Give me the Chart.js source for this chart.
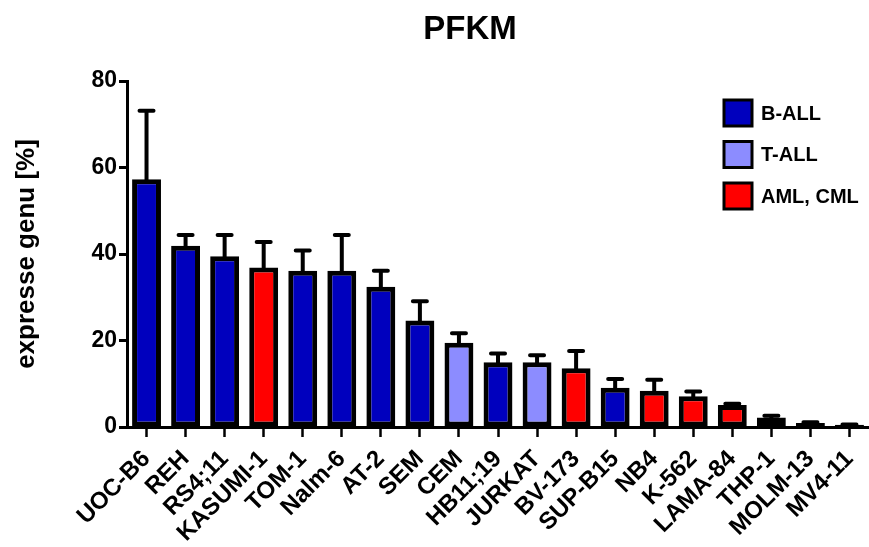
<!DOCTYPE html>
<html>
<head>
<meta charset="utf-8">
<script src="https://cdn.jsdelivr.net/npm/chart.js@4.4.1/dist/chart.umd.min.js"></script>
<style>
    body { margin: 0; background: #fff; }
    #wrap { width: 869px; height: 547px; }
</style>
</head>
<body>
<div id="wrap"><canvas id="pfkm_chart"></canvas></div>
<script>
// data
const cellLines = ['UOC-B6', 'REH', 'RS4;11', 'KASUMI-1', 'TOM-1', 'Nalm-6', 'AT-2', 'SEM', 'CEM', 'HB11;19',
    'JURKAT', 'BV-173', 'SUP-B15', 'NB4', 'K-562', 'LAMA-84', 'THP-1', 'MOLM-13', 'MV4-11'];
const expression = [57.3, 41.9, 39.5, 36.9, 36.1, 36.1, 32.4, 24.6, 19.5, 15.0,
    15.0, 13.6, 9.1, 8.4, 7.1, 5.1, 2.2, 0.9, 0.5];
const errorUp = [15.8, 2.5, 4.9, 5.9, 4.7, 8.3, 3.7, 4.5, 2.2, 2.0,
    1.6, 4.0, 2.0, 2.5, 1.1, 0.3, 0.4, 0.2, 0.1];
const groups = ['B-ALL', 'B-ALL', 'B-ALL', 'AML, CML', 'B-ALL', 'B-ALL', 'B-ALL', 'B-ALL', 'T-ALL', 'B-ALL',
    'T-ALL', 'AML, CML', 'B-ALL', 'AML, CML', 'AML, CML', 'AML, CML', 'AML, CML', 'AML, CML', 'AML, CML'];
const legendNames = ['B-ALL', 'T-ALL', 'AML, CML'];
const groupColors = {'B-ALL': '#0000BE', 'T-ALL': '#8C8CFF', 'AML, CML': '#FF0000'};
const yTicks = [0, 20, 40, 60, 80];

const FONT = '"Liberation Sans", Arial, sans-serif';

// error bars (upper only)
const errorBars = {
    id: 'errorBars',
    beforeDatasetsDraw(chart) {
        const ctx = chart.ctx;
        const y = chart.scales.y;
        const meta = chart.getDatasetMeta(0);
        ctx.save();
        ctx.strokeStyle = '#000';
        ctx.lineWidth = 4;
        ctx.lineCap = 'round';
        meta.data.forEach((bar, i) => {
            let yTop = y.getPixelForValue(expression[i] + errorUp[i]);
            let yBar = y.getPixelForValue(expression[i]);
            ctx.beginPath();
            ctx.moveTo(bar.x, yBar + 2);
            ctx.lineTo(bar.x, yTop);
            ctx.moveTo(bar.x - 7, yTop);
            ctx.lineTo(bar.x + 7, yTop);
            ctx.stroke();
        });
        ctx.restore();
    }
};

// title + legend drawn on the canvas
const extras = {
    id: 'extras',
    afterDraw(chart) {
        const ctx = chart.ctx;
        ctx.save();
        ctx.fillStyle = '#000';
        ctx.font = 'bold 33px ' + FONT;
        ctx.textAlign = 'center';
        ctx.textBaseline = 'middle';
        ctx.fillText('PFKM', 470, 30);

        ctx.font = 'bold 20px ' + FONT;
        ctx.textAlign = 'left';
        legendNames.forEach((name, i) => {
            let top = 100 + i * 41.5;
            ctx.fillStyle = groupColors[name];
            ctx.fillRect(724, top, 28, 26);
            ctx.strokeStyle = '#000';
            ctx.lineWidth = 3;
            ctx.strokeRect(724, top, 28, 26);
            ctx.fillStyle = '#000';
            ctx.fillText(name, 761, top + 14);
        });
        ctx.restore();
    }
};

new Chart(document.getElementById('pfkm_chart'), {
    type: 'bar',
    data: {
        labels: cellLines,
        datasets: [{
            label: 'expresse genu',
            data: expression,
            backgroundColor: groups.map(g => groupColors[g]),
            borderColor: '#000',
            borderWidth: 5,
            borderSkipped: false,
            categoryPercentage: 1,
            barPercentage: 0.74
        }]
    },
    options: {
        responsive: true,
        maintainAspectRatio: false,
        animation: false,
        layout: { padding: { top: 81, right: 0, left: 0, bottom: 0 } },
        plugins: { legend: { display: false }, tooltip: { enabled: false } },
        scales: {
            x: {
                afterFit(scale) {
                    scale.height = 120;
                    scale.paddingLeft = 0;
                    scale.paddingRight = 0;
                },
                grid: { display: true, offset: false, drawOnChartArea: false, tickLength: 10, tickWidth: 2.5, tickColor: '#000' },
                border: { display: true, width: 3, color: '#000' },
                ticks: {
                    color: '#000', autoSkip: false, minRotation: 45, maxRotation: 45, padding: 8,
                    font: { family: FONT, size: 24, weight: 'bold' }
                }
            },
            y: {
                min: 0, max: 80,
                afterFit(scale) { scale.width = 127; },
                afterBuildTicks(scale) { scale.ticks = yTicks.map(v => ({ value: v })); },
                grid: { display: true, drawOnChartArea: false, tickLength: 8, tickWidth: 3, tickColor: '#000' },
                border: { display: true, width: 3, color: '#000' },
                ticks: { color: '#000', padding: 2, font: { family: FONT, size: 23, weight: 'bold' } },
                title: {
                    display: true, text: 'expresse genu [%]', color: '#000',
                    padding: { top: 11, bottom: 0 },
                    font: { family: FONT, size: 26, weight: 'bold' }
                }
            }
        }
    },
    plugins: [errorBars, extras]
});
</script>
</body>
</html>
